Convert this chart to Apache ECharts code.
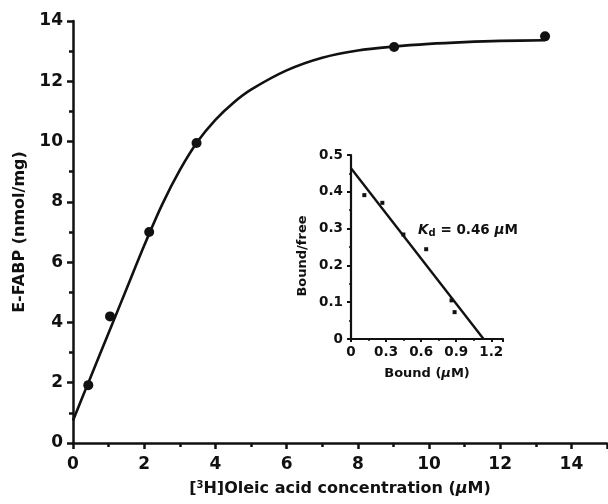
<!DOCTYPE html>
<html>
<head>
<meta charset="utf-8">
<title>E-FABP oleic acid binding</title>
<script src="https://cdn.jsdelivr.net/npm/echarts@6/dist/echarts.min.js"></script>
<style>
  html, body { margin: 0; padding: 0; background: #fff; }
  #chart { width: 608px; height: 504px; }
</style>
</head>
<body>
<div id="chart"></div>
<script>
// main plot: measured binding points
var concX = [0.43, 1.04, 2.14, 3.47, 9.02, 13.26]
var boundY = [1.92, 4.2, 7.0, 9.95, 13.14, 13.49]

// fitted saturation curve
var fitX = [0, 0.5, 1.0, 1.5, 2.0, 2.5, 3.0, 3.5, 4.0, 4.5, 5.0, 6.0, 7.0, 8.0, 9.0, 10.0, 11.0, 12.0, 13.26]
var fitY = [0.75, 2.2, 3.65, 5.1, 6.55, 7.9, 9.05, 10.0, 10.72, 11.28, 11.72, 12.36, 12.78, 13.02, 13.15, 13.24, 13.3, 13.34, 13.36]

// inset: Scatchard plot
var scatX = [0.114, 0.268, 0.448, 0.643, 0.86, 0.886]
var scatY = [0.391, 0.37, 0.284, 0.244, 0.105, 0.073]
var scatLineX = [0, 1.134]
var scatLineY = [0.464, 0]
var kdLabelAt = [0.574, 0.296]

var mainXTicks = [0, 2, 4, 6, 8, 10, 12, 14]
var insetXTicks = [0, 0.3, 0.6, 0.9, 1.2]

function pairs(xs, ys) {
  var out = []
  for (var i = 0; i < xs.length; i++) out.push([xs[i], ys[i]])
  return out
}

var FONT = 'DejaVu Sans'
var INK = '#111'

var chart = echarts.init(document.getElementById('chart'), null, { renderer: 'canvas' })

var axisCommon = {
  axisLine: { show: true, onZero: false, lineStyle: { color: INK, width: 2.5 } },
  splitLine: { show: false }
}

chart.setOption({
  backgroundColor: '#fff',
  animation: false,
  textStyle: { fontFamily: FONT },
  grid: [
    { left: 73, top: 21, right: 1, bottom: 61 },
    { left: 351, top: 155, right: 105, bottom: 165 }
  ],
  xAxis: [
    Object.assign({}, axisCommon, {
      gridIndex: 0,
      type: 'value',
      min: 0,
      max: 15,
      interval: 2,
      name: '[{sup|3}H]Oleic acid concentration ({i|μ}M)',
      nameLocation: 'middle',
      nameGap: 37,
      nameTextStyle: {
        color: INK, fontFamily: FONT, fontWeight: 'bold', fontSize: 16, lineHeight: 18,
        rich: {
          sup: { fontFamily: FONT, fontWeight: 'bold', fontSize: 10, color: INK, verticalAlign: 'top', lineHeight: 10, padding: [0, 0, 8, 0] },
          i: { fontFamily: FONT, fontWeight: 'bold', fontStyle: 'italic', fontSize: 16, color: INK, lineHeight: 18 }
        }
      },
      axisTick: { show: true, length: 6, lineStyle: { color: INK, width: 2.5 } },
      minorTick: { show: true, splitNumber: 2, length: 4, lineStyle: { color: INK, width: 2.5 } },
      axisLabel: {
        color: INK, fontWeight: 'bold', fontSize: 17, margin: 13, showMaxLabel: false,
        formatter: function(v) { return mainXTicks.indexOf(v) >= 0 ? String(v) : '' }
      }
    }),
    Object.assign({}, axisCommon, {
      gridIndex: 1,
      type: 'value',
      min: 0,
      max: 1.3,
      interval: 0.3,
      name: 'Bound ({i|μ}M)',
      nameLocation: 'middle',
      nameGap: 28,
      nameTextStyle: {
        color: INK, fontFamily: FONT, fontWeight: 'bold', fontSize: 13,
        rich: { i: { fontFamily: FONT, fontWeight: 'bold', fontStyle: 'italic', fontSize: 13, color: INK } }
      },
      axisLine: { show: true, onZero: false, lineStyle: { color: INK, width: 2.2 } },
      axisTick: { show: true, length: 3, lineStyle: { color: INK, width: 2 } },
      minorTick: { show: true, splitNumber: 2, length: 2, lineStyle: { color: INK, width: 1.5 } },
      axisLabel: {
        color: INK, fontWeight: 'bold', fontSize: 13.5, margin: 6, showMaxLabel: false,
        formatter: function(v) {
          for (var i = 0; i < insetXTicks.length; i++) {
            if (Math.abs(insetXTicks[i] - v) < 1e-6) return v === 0 ? '0' : insetXTicks[i].toFixed(1)
          }
          return ''
        }
      }
    })
  ],
  yAxis: [
    Object.assign({}, axisCommon, {
      gridIndex: 0,
      type: 'value',
      min: 0,
      max: 14,
      interval: 2,
      name: 'E-FABP (nmol/mg)',
      nameLocation: 'middle',
      nameGap: 45,
      nameTextStyle: { color: INK, fontFamily: FONT, fontWeight: 'bold', fontSize: 16 },
      axisTick: { show: true, length: 6, lineStyle: { color: INK, width: 2.5 } },
      minorTick: { show: true, splitNumber: 2, length: 4, lineStyle: { color: INK, width: 2.5 } },
      axisLabel: { color: INK, fontWeight: 'bold', fontSize: 17, margin: 10 }
    }),
    Object.assign({}, axisCommon, {
      gridIndex: 1,
      type: 'value',
      min: 0,
      max: 0.5,
      interval: 0.1,
      axisLine: { show: true, onZero: false, lineStyle: { color: INK, width: 2.2 } },
      axisTick: { show: true, length: 4, lineStyle: { color: INK, width: 2 } },
      minorTick: { show: true, splitNumber: 2, length: 2, lineStyle: { color: INK, width: 1.5 } },
      axisLabel: {
        color: INK, fontWeight: 'bold', fontSize: 13.5, margin: 8,
        formatter: function(v) { return v === 0 ? '0' : v.toFixed(1) }
      }
    })
  ],
  graphic: [
    {
      type: 'text',
      x: 303,
      y: 256,
      rotation: Math.PI / 2,
      style: {
        text: 'Bound/free',
        fill: INK,
        font: 'bold 13px "DejaVu Sans"',
        align: 'center',
        verticalAlign: 'middle'
      }
    }
  ],
  series: [
    {
      name: 'fit',
      type: 'line',
      xAxisIndex: 0,
      yAxisIndex: 0,
      data: pairs(fitX, fitY),
      smooth: 0.3,
      showSymbol: false,
      lineStyle: { color: INK, width: 2.6 },
      z: 2
    },
    {
      name: 'measured',
      type: 'scatter',
      xAxisIndex: 0,
      yAxisIndex: 0,
      data: pairs(concX, boundY),
      symbol: 'circle',
      symbolSize: 10,
      itemStyle: { color: INK, opacity: 1 },
      z: 3
    },
    {
      name: 'scatchard fit',
      type: 'line',
      xAxisIndex: 1,
      yAxisIndex: 1,
      data: pairs(scatLineX, scatLineY),
      showSymbol: false,
      lineStyle: { color: INK, width: 2.4 },
      z: 2
    },
    {
      name: 'scatchard',
      type: 'scatter',
      xAxisIndex: 1,
      yAxisIndex: 1,
      data: pairs(scatX, scatY),
      symbol: 'rect',
      symbolSize: 4,
      itemStyle: { color: INK, opacity: 1 },
      z: 3
    },
    {
      name: 'kd',
      type: 'scatter',
      xAxisIndex: 1,
      yAxisIndex: 1,
      data: [kdLabelAt],
      symbolSize: 0,
      silent: true,
      itemStyle: { opacity: 1 },
      label: {
        show: true,
        position: 'right',
        distance: 0,
        formatter: '{k|K}{d|d}{t| = 0.46 }{u|μ}{t|M}',
        rich: {
          k: { fontFamily: FONT, fontWeight: 'bold', fontStyle: 'italic', fontSize: 13.5, color: INK, lineHeight: 16 },
          d: { fontFamily: FONT, fontWeight: 'bold', fontSize: 10, color: INK, verticalAlign: 'bottom', lineHeight: 10, padding: [8, 0, 0, 0] },
          t: { fontFamily: FONT, fontWeight: 'bold', fontSize: 13.5, color: INK, lineHeight: 16 },
          u: { fontFamily: FONT, fontWeight: 'bold', fontStyle: 'italic', fontSize: 13.5, color: INK, lineHeight: 16 }
        }
      }
    }
  ]
})
</script>
</body>
</html>
